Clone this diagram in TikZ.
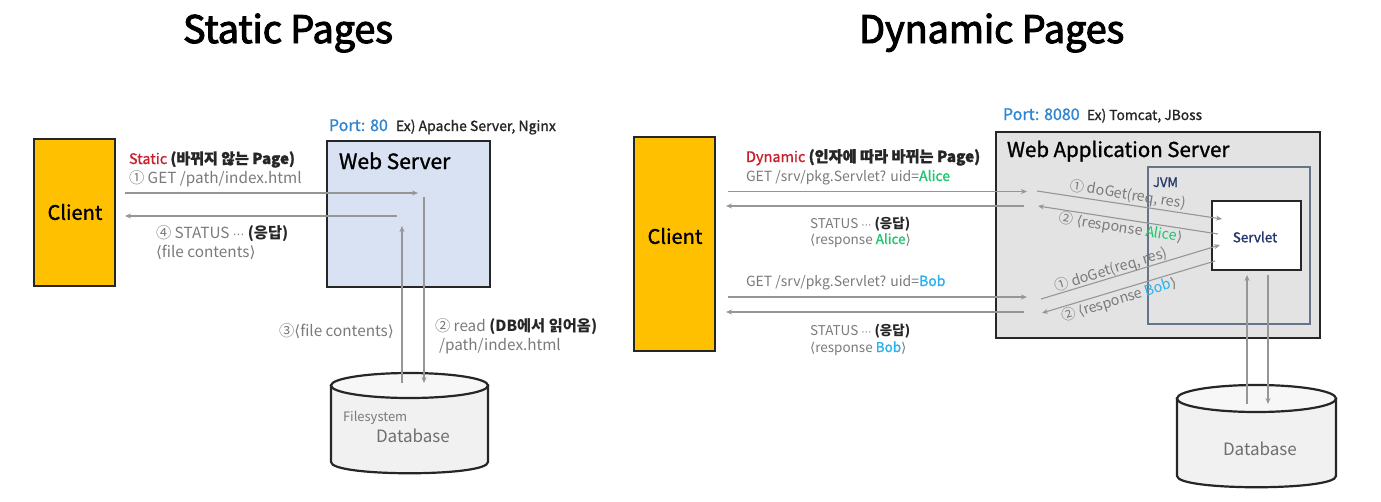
\documentclass[tikz,border=0pt]{standalone}
\usepackage{fontspec}
\usepackage{graphicx}
\setmainfont{Noto Sans CJK KR}
\newfontfamily\medf[FakeBold=1.3]{Noto Sans CJK KR}
\newfontfamily\titlef[FakeBold=2.6,LetterSpace=-0.5]{Noto Sans CJK KR}
\newfontfamily\djv{DejaVu Sans}
\usetikzlibrary{arrows.meta}
\definecolor{gtxt}{HTML}{7A7A7A}
\definecolor{dtxt}{HTML}{262626}
\definecolor{redt}{HTML}{C8202C}
\definecolor{bluet}{HTML}{2E86D0}
\definecolor{greent}{HTML}{1FC46E}
\definecolor{bobt}{HTML}{25B0F0}
\definecolor{navyt}{HTML}{23386E}
\definecolor{arrowc}{HTML}{969696}
\definecolor{gold}{HTML}{FFC000}
\definecolor{wsfill}{HTML}{D9E2F3}
\definecolor{wasfill}{HTML}{E3E3E3}
\definecolor{dbfill}{HTML}{F1F1F1}
\definecolor{dbtop}{HTML}{F7F7F7}
\definecolor{jvmc}{HTML}{66748A}
\newcommand{\fs}[1]{\fontsize{#1}{#1}\selectfont}
\newcommand{\lbk}{{\djv⟨}}
\newcommand{\rbk}{{\djv⟩}}
\newcommand{\mdots}{{\djv\scalebox{0.75}{⋯}}}
\tikzset{
  x=1pt,y=-1pt,
  lbl/.style={anchor=base west,inner sep=0pt,outer sep=0pt},
  lblc/.style={anchor=center,inner sep=0pt,outer sep=0pt},
  gl/.style={lbl,text=gtxt,font=\fs{15.3}},
  sm/.style={lbl,text=gtxt,font=\fs{13.5}},
  rot/.style={lblc,text=gtxt,font=\fs{14.3}},
  box/.style={draw=black!85,line width=2.2pt,inner sep=0pt},
  clientbox/.style={box,fill=gold},
  conn/.style={draw=arrowc,line width=1.1pt,-{Stealth[length=6pt,width=5pt]}},
  dbline/.style={draw=black!85,line width=2.2pt},
}
\begin{document}
\begin{tikzpicture}
\useasboundingbox (0,0) rectangle (1381,501);
% titles
\node[lbl,font=\fs{38}\titlef,text=black] (t1) at (183,43) {Static Pages};
\node[lbl,font=\fs{38}\titlef,text=black] (t2) at (859,43) {Dynamic Pages};
% LEFT
\node[clientbox,minimum width=81,minimum height=147] (c1) at (74.5,212.5) {};
\node[lblc,font=\fs{20}\medf,text=black] (c1t) at (75,212) {Client};
\node[box,fill=wsfill,minimum width=163,minimum height=146] (ws) at (408.5,214) {};
\node[lbl,font=\fs{21}\medf,text=black] (wst) at (339,169) {Web Server};
\node[lbl,font=\fs{16}\medf,text=bluet] (p1) at (329,131) {Port: 80};
\node[lbl,font=\fs{14}\medf,text=dtxt] (p1e) at (396,131) {Ex) Apache Server, Nginx};
% database 1
\path[dbline,fill=dbfill] (331,385.5) -- (331,462) .. controls (331,477) and (488,477) .. (488,462) -- (488,385.5) -- cycle;
\draw[dbline,fill=dbtop] (409.5,385.5) ellipse [x radius=78.5,y radius=12.5];
\node[lbl,font=\fs{13},text=gtxt] (fs1) at (343,421) {Filesystem};
\node[lbl,font=\fs{17},text=gtxt!90!black] (db1t) at (376,442) {Database};
\node[lbl,font=\fs{14.5}\medf,text=redt] (s1) at (129,164) {Static \textcolor{dtxt}{\fs{15}\bfseries(바뀌지 않는 Page)}};
\node[gl] (s2) at (129,183) {① GET /path/index.html};
\node[gl] (s3) at (156,238) {④ STATUS \mdots{} \textcolor{dtxt}{\textbf{(응답)}}};
\node[gl] (s4) at (156,257) {\lbk file contents\rbk};
\node[gl] (s5) at (279,336) {③\lbk file contents\rbk};
\node[gl] (s6) at (435,331) {② read \textcolor{dtxt}{\textbf{(DB에서 읽어옴)}}};
\node[gl] (s7) at (439,350) {/path/index.html};
\coordinate (a1) at (125,193); \coordinate (a2) at (418,193);
\coordinate (b1) at (397,216); \coordinate (b2) at (125,216);
\coordinate (d1) at (402,383); \coordinate (d2) at (402,226);
\coordinate (e1) at (424,197); \coordinate (e2) at (424,383);
\draw[conn] (a1) -- (a2);
\draw[conn] (b1) -- (b2);
\draw[conn] (d1) -- (d2);
\draw[conn] (e1) -- (e2);
% RIGHT
\node[clientbox,minimum width=81,minimum height=214] (c2) at (674.5,244) {};
\node[lblc,font=\fs{20}\medf,text=black] (c2t) at (675,236) {Client};
\node[box,fill=wasfill,minimum width=324,minimum height=206] (was) at (1158,235) {};
\node[lbl,font=\fs{20.5}\medf,text=black] (wast) at (1007,157) {Web Application Server};
\node[lbl,font=\fs{16}\medf,text=bluet] (p2) at (1003,120) {Port: 8080};
\node[lbl,font=\fs{13.8}\medf,text=dtxt] (p2e) at (1087,120) {Ex) Tomcat, JBoss};
\node[draw=jvmc,line width=1.1pt,inner sep=0pt,minimum width=162,minimum height=157] (jvm) at (1229,245.5) {};
\node[lbl,font=\fs{13}\medf,text=navyt] (jvmt) at (1153,187) {JVM};
\node[draw=black!85,line width=1.5pt,fill=white,inner sep=0pt,minimum width=89,minimum height=69] (sv) at (1256.5,235.5) {};
\node[lblc,font=\fs{13.5}\medf,text=navyt] (svt) at (1255,237) {Servlet};
% database 2
\path[dbline,fill=dbfill] (1177,398.5) -- (1177,476) .. controls (1177,491) and (1336,491) .. (1336,476) -- (1336,398.5) -- cycle;
\draw[dbline,fill=dbtop] (1256.5,398.5) ellipse [x radius=79.5,y radius=13.5];
\node[lbl,font=\fs{17},text=gtxt!90!black] (db2t) at (1223,455) {Database};
\node[lbl,font=\fs{14.5}\medf,text=redt] (r1) at (746,162) {Dynamic \textcolor{dtxt}{\fs{15.2}\bfseries(인자에 따라 바뀌는 Page)}};
\node[gl,font=\fs{14}] (r2) at (746,181) {GET /srv/pkg.Servlet? uid=\textcolor{greent}{\medf Alice}};
\node[sm] (r3) at (810,228) {STATUS \mdots{} \textcolor{dtxt}{\textbf{(응답)}}};
\node[sm] (r4) at (810,244) {\lbk response \textcolor{greent}{\medf Alice}\rbk};
\node[gl,font=\fs{14}] (r5) at (746,286) {GET /srv/pkg.Servlet? uid=\textcolor{bobt}{\medf Bob}};
\node[sm] (r6) at (810,335) {STATUS \mdots{} \textcolor{dtxt}{\textbf{(응답)}}};
\node[sm] (r7) at (810,352) {\lbk response \textcolor{bobt}{\medf Bob}\rbk};
\coordinate (f1) at (728,191.5); \coordinate (f2) at (1027,191.5);
\coordinate (g1) at (1024,206); \coordinate (g2) at (726,206);
\coordinate (h1) at (728,297); \coordinate (h2) at (1027,297);
\coordinate (i1) at (1024,312); \coordinate (i2) at (726,312);
\coordinate (j1) at (1037,191); \coordinate (j2) at (1222,219);
\coordinate (k1) at (1218,234); \coordinate (k2) at (1038,206);
\coordinate (l1) at (1041,299); \coordinate (l2) at (1220,245);
\coordinate (m1) at (1215,261); \coordinate (m2) at (1042,313);
\coordinate (n1) at (1247,404); \coordinate (n2) at (1247,275);
\coordinate (o1) at (1268,275); \coordinate (o2) at (1268,404);
\foreach \u/\v in {f1/f2,g1/g2,h1/h2,i1/i2,j1/j2,k1/k2,l1/l2,m1/m2,n1/n2,o1/o2}
  \draw[conn] (\u) -- (\v);
\node[rot,rotate=-9] (q1) at (1128,195) {① doGet(req, res)};
\node[rot,rotate=-9] (q2) at (1121,228) {② \lbk response \textcolor{greent}{Alice}\rbk};
\node[rot,rotate=17] (q3) at (1111,270) {① doGet(req, res)};
\node[rot,rotate=17] (q4) at (1119,300) {② \lbk response \textcolor{bobt}{Bob}\rbk};
\end{tikzpicture}
\end{document}
